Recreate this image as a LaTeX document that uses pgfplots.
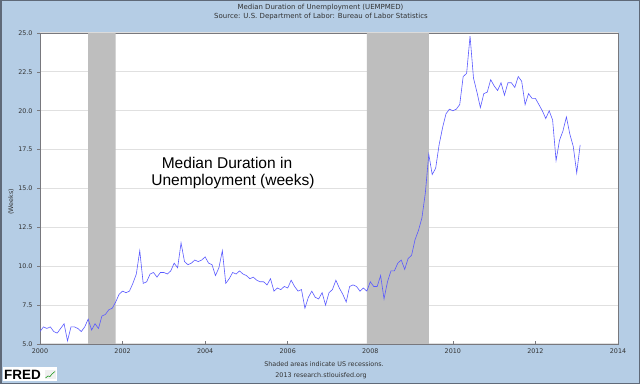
\documentclass[border=0pt]{standalone}
\usepackage{pgfplots}
\pgfplotsset{compat=1.18}
\usepackage{pgfplotstable}
\usepackage{fontspec}
\setmainfont{DejaVu Sans}
\newfontfamily\arialfont{Liberation Sans}
\definecolor{bgblue}{RGB}{181,205,229}
\definecolor{recgray}{RGB}{190,190,190}
\definecolor{lineblue}{RGB}{90,90,255}
\definecolor{gridgray}{RGB}{224,224,224}
\definecolor{ticktext}{RGB}{50,50,50}
\definecolor{framecol}{RGB}{95,105,120}
\definecolor{axcol}{RGB}{120,120,125}

\pgfplotstableread{
y m v
2000 1 5.8
2000 2 6.1
2000 3 6.0
2000 4 6.1
2000 5 5.8
2000 6 5.7
2000 7 6.0
2000 8 6.3
2000 9 5.2
2000 10 6.1
2000 11 6.1
2000 12 6.0
2001 1 5.8
2001 2 6.1
2001 3 6.6
2001 4 5.9
2001 5 6.3
2001 6 6.0
2001 7 6.8
2001 8 6.9
2001 9 7.2
2001 10 7.3
2001 11 7.7
2001 12 8.2
2002 1 8.4
2002 2 8.3
2002 3 8.4
2002 4 8.9
2002 5 9.5
2002 6 11.0
2002 7 8.9
2002 8 9.0
2002 9 9.5
2002 10 9.6
2002 11 9.3
2002 12 9.6
2003 1 9.6
2003 2 9.5
2003 3 9.7
2003 4 10.2
2003 5 9.9
2003 6 11.5
2003 7 10.3
2003 8 10.1
2003 9 10.2
2003 10 10.4
2003 11 10.3
2003 12 10.4
2004 1 10.6
2004 2 10.2
2004 3 10.1
2004 4 9.4
2004 5 9.9
2004 6 11.0
2004 7 8.9
2004 8 9.2
2004 9 9.6
2004 10 9.5
2004 11 9.7
2004 12 9.5
2005 1 9.4
2005 2 9.2
2005 3 9.3
2005 4 9.1
2005 5 9.0
2005 6 9.0
2005 7 8.8
2005 8 9.2
2005 9 8.4
2005 10 8.6
2005 11 8.5
2005 12 8.7
2006 1 8.6
2006 2 9.1
2006 3 8.7
2006 4 8.4
2006 5 8.5
2006 6 7.3
2006 7 8.0
2006 8 8.4
2006 9 8.0
2006 10 7.9
2006 11 8.3
2006 12 7.5
2007 1 8.3
2007 2 8.5
2007 3 9.1
2007 4 8.6
2007 5 8.2
2007 6 7.7
2007 7 8.7
2007 8 8.8
2007 9 8.7
2007 10 8.4
2007 11 8.6
2007 12 8.4
2008 1 9.0
2008 2 8.7
2008 3 8.7
2008 4 9.4
2008 5 7.9
2008 6 9.0
2008 7 9.7
2008 8 9.7
2008 9 10.2
2008 10 10.4
2008 11 9.8
2008 12 10.5
2009 1 10.7
2009 2 11.7
2009 3 12.3
2009 4 13.1
2009 5 14.7
2009 6 17.2
2009 7 15.9
2009 8 16.3
2009 9 17.8
2009 10 18.9
2009 11 19.8
2009 12 20.1
2010 1 20.0
2010 2 20.1
2010 3 20.4
2010 4 22.2
2010 5 22.4
2010 6 24.8
2010 7 22.1
2010 8 21.2
2010 9 20.2
2010 10 21.1
2010 11 21.2
2010 12 22.0
2011 1 21.6
2011 2 21.3
2011 3 21.8
2011 4 21.0
2011 5 21.8
2011 6 21.8
2011 7 21.5
2011 8 22.2
2011 9 21.9
2011 10 20.4
2011 11 21.1
2011 12 20.8
2012 1 20.8
2012 2 20.4
2012 3 20.0
2012 4 19.5
2012 5 20.0
2012 6 19.4
2012 7 16.8
2012 8 18.1
2012 9 18.7
2012 10 19.6
2012 11 18.5
2012 12 17.7
2013 1 16.0
2013 2 17.8
}\uempmed

\begin{document}
\begin{tikzpicture}
\fill[bgblue] (0bp,0bp) rectangle (640bp,384bp);
\draw[framecol, line width=1.5bp] (0.75bp,0.75bp) rectangle (639.25bp,383.25bp);
\useasboundingbox (0bp,0bp) rectangle (640bp,384bp);
\begin{axis}[
  at={(40bp,40bp)}, anchor=south west, scale only axis,
  width=578bp, height=311bp,
  xmin=2000, xmax=2014, ymin=5, ymax=25,
  xtick={2000,2002,2004,2006,2008,2010,2012,2014},
  ytick={5,7.5,10,12.5,15,17.5,20,22.5,25},
  xtick pos=left, ytick pos=left,
  xtick align=inside, ytick align=outside,
  major tick length=3bp,
  tick style={color=axcol, line width=0.6bp},
  axis line style={color=axcol, line width=0.8bp},
  axis background/.style={fill=white},
  ymajorgrids, xmajorgrids=false,
  major grid style={color=gridgray, line width=1.2bp},
  /pgf/number format/assume math mode=true,
  tick label style={font=\fontsize{6.4}{7}\selectfont, text=ticktext},
  xticklabel style={/pgf/number format/1000 sep={}, yshift=-1bp},
  yticklabel style={/pgf/number format/fixed, /pgf/number format/fixed zerofill, /pgf/number format/precision=1, xshift=-1bp},
]
\addplot[fill=recgray, draw=none] coordinates {(2001.1667,5) (2001.1667,25) (2001.8333,25) (2001.8333,5)} \closedcycle;
\addplot[fill=recgray, draw=none] coordinates {(2007.9167,5) (2007.9167,25) (2009.4167,25) (2009.4167,5)} \closedcycle;
\addplot[lineblue, line width=0.6bp, mark=none] table[x expr=\thisrow{y}+(\thisrow{m}-1)/12, y=v] {\uempmed};
\end{axis}
% titles
\node[font=\fontsize{7}{8}\selectfont, text=ticktext, anchor=base, inner sep=0] at (320.5bp,374.5bp) {Median Duration of Unemployment (UEMPMED)};
\node[font=\fontsize{7}{8}\selectfont, text=ticktext, anchor=base, inner sep=0] at (321bp,365.2bp) {Source: U.S. Department of Labor: Bureau of Labor Statistics};
% y label
\node[font=\fontsize{6.4}{7}\selectfont, text=ticktext, rotate=90, inner sep=0] at (11bp,182bp) {(Weeks)};
% annotation
\node[font=\arialfont\fontsize{15.6}{17}\selectfont, anchor=base, inner sep=0] at (227bp,215bp) {Median Duration in};
\node[font=\arialfont\fontsize{15.6}{17}\selectfont, anchor=base, inner sep=0] at (233bp,198.5bp) {Unemployment (weeks)};
% bottom notes
\node[font=\fontsize{6.4}{7}\selectfont, text=ticktext, anchor=base, inner sep=0] at (324bp,17.5bp) {Shaded areas indicate US recessions.};
\node[font=\fontsize{6.4}{7}\selectfont, text=ticktext, anchor=base, inner sep=0] at (321bp,6.5bp) {2013 research.stlouisfed.org};
% FRED logo
\fill[white] (3bp,3bp) rectangle (57bp,16.5bp);
\node[anchor=base west, inner sep=0, font=\arialfont\bfseries\fontsize{13.5}{14}\selectfont] at (4bp,5bp) {FRED};
\fill[gray!12] (45bp,5bp) rectangle (55.5bp,14bp);
\draw[green!55!black, line width=0.5bp] (45.5bp,6bp) -- (48bp,8bp) -- (50bp,7.5bp) -- (52bp,10bp) -- (55bp,12.5bp);
\end{tikzpicture}
\end{document}
